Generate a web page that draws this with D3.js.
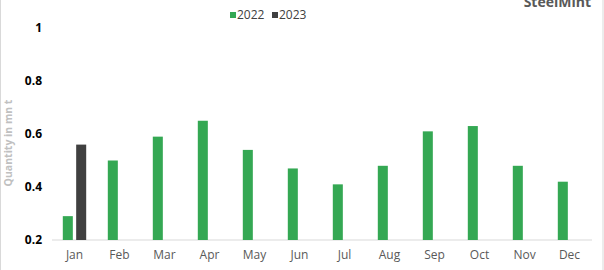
<!DOCTYPE html>
<html>
<head>
<meta charset="utf-8">
<script src="https://cdn.jsdelivr.net/npm/d3@7"></script>
<style>
  body { margin: 0; background: #fff; }
  svg { font-family: "Open Sans", Lato, sans-serif; display: block; }
</style>
</head>
<body>
<div id="chart"></div>
<script>
// Chart data
const months = ["Jan", "Feb", "Mar", "Apr", "May", "Jun", "Jul", "Aug", "Sep", "Oct", "Nov", "Dec"];
const seriesNames = ["2022", "2023"];
const values2022 = [0.29, 0.50, 0.59, 0.65, 0.54, 0.47, 0.41, 0.48, 0.61, 0.63, 0.48, 0.42];
const values2023 = [0.56, null, null, null, null, null, null, null, null, null, null, null];
const yTicks = [0.2, 0.4, 0.6, 0.8, 1];
const colors = ["#34a853", "#404040"];

const width = 604, height = 270;
const margin = { top: 28, right: 12, bottom: 30, left: 52 };

const svg = d3.select("#chart")
    .append("svg")
    .attr("width", width)
    .attr("height", height);

// Frame
svg.append("rect")
    .attr("x", 0.5).attr("y", -1)
    .attr("width", width - 1.5).attr("height", height + 2)
    .attr("fill", "none")
    .attr("stroke", "#d9d9d9");

// Scales
const x0 = d3.scaleBand()
    .domain(months)
    .range([margin.left, width - margin.right])
    .paddingInner(0.48)
    .paddingOuter(0.24);

const x1 = d3.scaleBand()
    .domain(seriesNames)
    .range([0, x0.bandwidth()])
    .paddingInner(0.25);

const y = d3.scaleLinear()
    .domain([0.2, 1])
    .range([height - margin.bottom, margin.top]);

// Y axis labels
svg.append("g")
    .selectAll("text")
    .data(yTicks)
    .enter()
    .append("text")
    .attr("x", 42)
    .attr("y", d => y(d))
    .attr("dy", "0.35em")
    .attr("text-anchor", "end")
    .attr("font-size", "12px")
    .attr("font-weight", "bold")
    .attr("fill", "#000")
    .text(d => d3.format("")(d));

// Y axis title
svg.append("text")
    .attr("transform", `translate(12,${(y(0.2) + y(1)) / 2 + 9}) rotate(-90)`)
    .attr("text-anchor", "middle")
    .attr("font-size", "10.5px")
    .attr("font-weight", "bold")
    .attr("fill", "#c0c0c0")
    .text("Quantity in mn t");

// Baseline
svg.append("line")
    .attr("x1", margin.left).attr("x2", width - margin.right)
    .attr("y1", y(0.2)).attr("y2", y(0.2))
    .attr("stroke", "#d9d9d9")
    .attr("stroke-width", 1);

// Bars
const rows = months.map((m, i) => ({ month: m, values: [values2022[i], values2023[i]] }));

const group = svg.append("g")
    .selectAll("g")
    .data(rows)
    .enter()
    .append("g")
    .attr("transform", d => `translate(${x0(d.month)},0)`);

group.selectAll("rect")
    .data(d => d.values.map((v, i) => ({ key: seriesNames[i], value: v, i })).filter(d => d.value != null))
    .enter()
    .append("rect")
    .attr("x", d => x1(d.key))
    .attr("y", d => y(d.value))
    .attr("width", x1.bandwidth())
    .attr("height", d => y(0.2) - y(d.value))
    .attr("fill", d => colors[d.i]);

// X axis labels
svg.append("g")
    .selectAll("text")
    .data(months)
    .enter()
    .append("text")
    .attr("x", d => x0(d) + x0.bandwidth() / 2)
    .attr("y", 259)
    .attr("text-anchor", "middle")
    .attr("font-size", "12px")
    .attr("fill", "#595959")
    .text(d => d);

// Legend
const legend = svg.append("g").attr("transform", "translate(230,15)");
const legendX = [0, 42];
seriesNames.forEach((s, i) => {
    legend.append("rect")
        .attr("x", legendX[i]).attr("y", -3)
        .attr("width", 6).attr("height", 6)
        .attr("fill", colors[i]);
    legend.append("text")
        .attr("x", legendX[i] + 7).attr("y", 0)
        .attr("dy", "0.35em")
        .attr("font-size", "12px")
        .attr("fill", "#404040")
        .text(s);
});

// Watermark, cut off at top as in the source image
svg.append("text")
    .attr("x", 591).attr("y", 7)
    .attr("text-anchor", "end")
    .attr("font-size", "14px")
    .attr("font-weight", "bold")
    .attr("fill", "#595959")
    .text("SteelMint");
</script>
</body>
</html>
